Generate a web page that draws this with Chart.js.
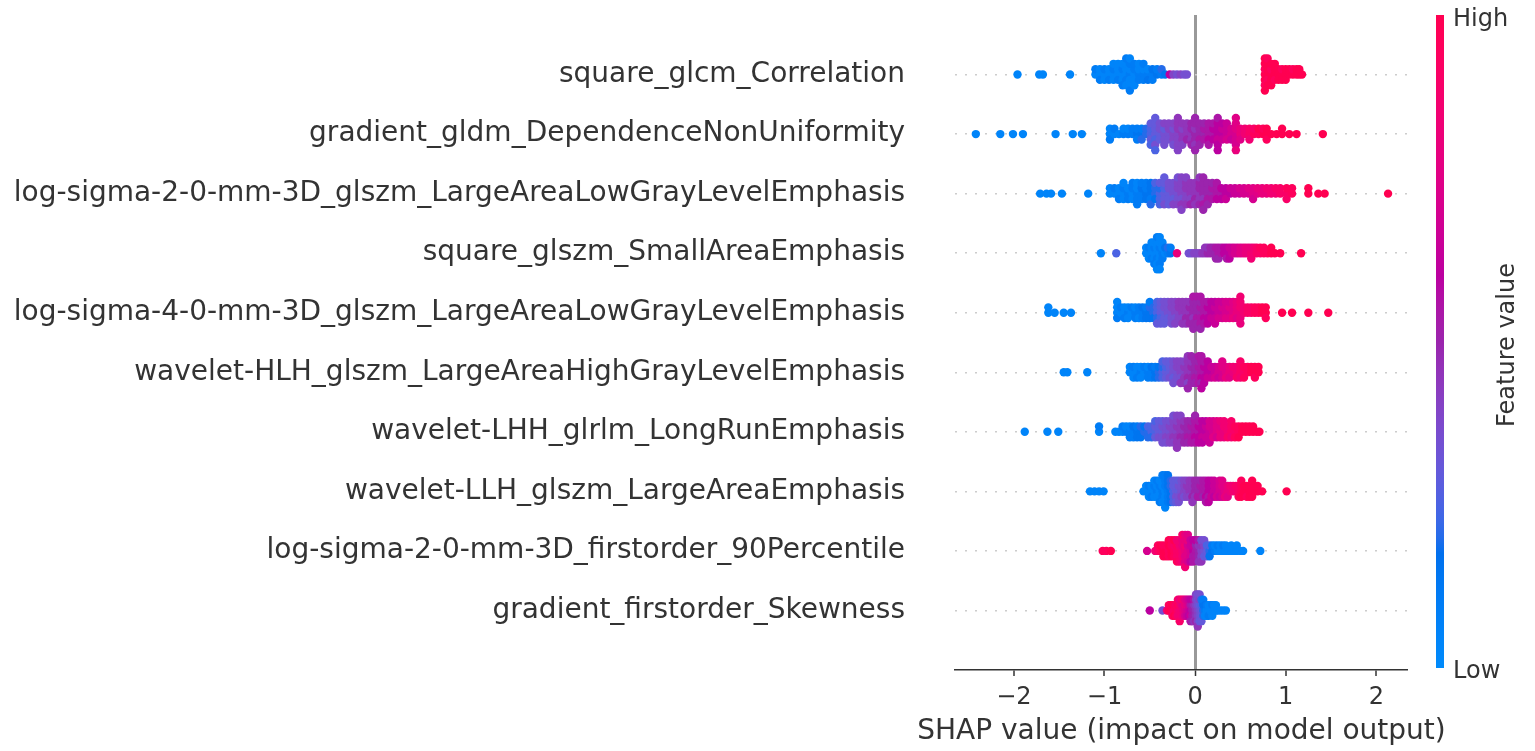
<!DOCTYPE html>
<html><head><meta charset="utf-8">
<script src="https://cdn.jsdelivr.net/npm/chart.js@4.4.1/dist/chart.umd.min.js"></script>
<style>html,body{margin:0;padding:0;background:#fff;}#wrap{width:1535px;height:751px;position:relative;}</style>
</head><body><div id="wrap"><canvas id="c" width="1535" height="751"></canvas></div>
<script>
// ---- DATA ----
const features = [
  'square_glcm_Correlation',
  'gradient_gldm_DependenceNonUniformity',
  'log-sigma-2-0-mm-3D_glszm_LargeAreaLowGrayLevelEmphasis',
  'square_glszm_SmallAreaEmphasis',
  'log-sigma-4-0-mm-3D_glszm_LargeAreaLowGrayLevelEmphasis',
  'wavelet-HLH_glszm_LargeAreaHighGrayLevelEmphasis',
  'wavelet-LHH_glrlm_LongRunEmphasis',
  'wavelet-LLH_glszm_LargeAreaEmphasis',
  'log-sigma-2-0-mm-3D_firstorder_90Percentile',
  'gradient_firstorder_Skewness'
];
const xTicks = [-2, -1, 0, 1, 2];
const xAxisTitle = 'SHAP value (impact on model output)';
const colorbarTitle = 'Feature value';
const colorbarHigh = 'High';
const colorbarLow = 'Low';

// each point: [SHAP value, normalized feature value]
const pts_square_glcm_Correlation = [
[-1.96,.05],[-1.72,.05],[-1.68,.05],[-1.38,.05],
[-1.10,.05],[-1.10,.1],
[-1.05,.05],[-1.05,.05],[-1.05,.1],
[-1.00,.05],[-1.00,.1],[-1.00,.05],
[-0.95,.05],[-0.95,.05],[-0.95,.1],
[-0.90,.05],[-0.90,.1],[-0.90,.05],[-0.90,.05],
[-0.85,.05],[-0.85,.05],[-0.85,.1],[-0.85,.05],
[-0.80,.05],[-0.80,.1],[-0.80,.05],[-0.80,.05],[-0.80,.1],
[-0.76,.05],[-0.76,.05],[-0.76,.1],[-0.76,.05],[-0.76,.05],[-0.76,.1],
[-0.72,.1],[-0.72,.05],[-0.72,.05],[-0.72,.1],[-0.72,.05],[-0.72,.05],[-0.72,.1],
[-0.67,.05],[-0.67,.1],[-0.67,.05],[-0.67,.1],[-0.67,.05],
[-0.62,.1],[-0.62,.05],[-0.62,.1],[-0.62,.05],
[-0.57,.1],[-0.57,.05],[-0.57,.1],[-0.57,.1],
[-0.52,.1],[-0.52,.05],[-0.52,.15],
[-0.47,.1],[-0.47,.15],[-0.47,.1],
[-0.42,.15],[-0.42,.1],
[-0.37,.1],[-0.37,.2],
[-0.33,.15],
[-0.28,.6],[-0.24,.4],[-0.20,.35],[-0.16,.4],[-0.12,.35],[-0.09,.35],
[0.77,1],[0.77,.95],[0.77,1],[0.77,1],[0.77,.95],[0.77,1],[0.77,1],
[0.80,1],[0.80,1],[0.80,.95],[0.80,1],[0.80,1],[0.80,.95],
[0.84,1],[0.84,.95],[0.84,1],[0.84,1],[0.84,1],
[0.88,1],[0.88,1],[0.88,.95],[0.88,1],
[0.92,1],[0.92,1],[0.92,1],
[0.96,1],[0.96,.95],[0.96,1],
[1.00,1],[1.00,1],[1.00,1],
[1.04,1],[1.04,1],
[1.08,1],[1.08,.95],
[1.12,1],[1.12,1],
[1.15,1],[1.15,1],
[1.18,1]
];
const pts_gradient_gldm_DependenceNonUniformity = [
[-2.42,.05],[-2.15,.05],[-2.01,.05],[-1.90,.05],[-1.54,.05],[-1.35,.05],[-1.25,.05],
[-0.94,.05],[-0.94,.05],[-0.94,.1],
[-0.89,.05],[-0.89,.1],
[-0.84,.05],
[-0.79,.1],[-0.79,.05],
[-0.74,.1],[-0.74,.05],
[-0.69,.1],[-0.69,.1],
[-0.64,.15],[-0.64,.1],[-0.64,.1],
[-0.59,.15],[-0.59,.1],[-0.59,.2],
[-0.54,.2],[-0.54,.2],
[-0.49,.25],[-0.49,.25],[-0.49,.3],[-0.49,.3],[-0.49,.25],
[-0.44,.3],[-0.44,.3],[-0.44,.25],[-0.44,.3],[-0.44,.35],[-0.44,.3],[-0.44,.25],
[-0.39,.3],[-0.39,.35],[-0.39,.3],[-0.39,.35],
[-0.34,.35],[-0.34,.3],[-0.34,.35],[-0.34,.4],[-0.34,.35],
[-0.29,.35],[-0.29,.4],[-0.29,.35],[-0.29,.4],
[-0.24,.4],[-0.24,.35],[-0.24,.4],[-0.24,.4],[-0.24,.35],
[-0.19,.4],[-0.19,.45],[-0.19,.4],[-0.19,.45],[-0.19,.4],[-0.19,.45],[-0.19,.4],
[-0.14,.45],[-0.14,.4],[-0.14,.45],[-0.14,.45],[-0.14,.4],
[-0.09,.45],[-0.09,.45],[-0.09,.5],[-0.09,.45],
[-0.04,.45],[-0.04,.5],[-0.04,.45],[-0.04,.5],[-0.04,.5],
[0.00,.5],[0.00,.45],[0.00,.5],[0.00,.5],[0.00,.45],[0.00,.5],[0.00,.5],
[0.05,.5],[0.05,.5],[0.05,.55],[0.05,.5],[0.05,.5],
[0.10,.5],[0.10,.55],[0.10,.55],[0.10,.5],
[0.15,.55],[0.15,.55],[0.15,.6],[0.15,.55],[0.15,.55],
[0.20,.55],[0.20,.6],[0.20,.6],[0.20,.55],
[0.25,.6],[0.25,.6],[0.25,.65],[0.25,.6],[0.25,.6],[0.25,.55],[0.25,.6],
[0.30,.6],[0.30,.65],[0.30,.65],[0.30,.6],
[0.35,.65],[0.35,.65],[0.35,.7],[0.35,.65],
[0.40,.7],[0.40,.7],[0.40,.65],
[0.45,.7],[0.45,.75],[0.45,.7],[0.45,.75],[0.45,.7],[0.45,.75],[0.45,.8],
[0.50,.8],[0.50,.8],[0.50,.75],
[0.55,.85],[0.55,.85],
[0.60,.9],[0.60,.9],[0.60,.85],
[0.65,.95],[0.65,.9],
[0.70,.95],[0.70,1],
[0.75,1],[0.75,.95],
[0.79,1],[0.79,1],[0.79,.95],
[0.84,1],
[0.90,1],
[0.96,1],[0.96,1],
[1.04,1],[1.12,1],
[1.41,1]
];
const pts_log_sigma_2_LargeAreaLowGrayLevelEmphasis = [
[-1.71,.05],[-1.64,.05],[-1.59,.05],[-1.47,.05],[-1.18,.05],
[-0.94,.05],[-0.94,.05],
[-0.89,.05],[-0.89,.1],
[-0.84,.05],[-0.84,.05],[-0.84,.1],
[-0.79,.05],[-0.79,.1],[-0.79,.05],[-0.79,.05],
[-0.74,.1],[-0.74,.05],[-0.74,.1],
[-0.69,.05],[-0.69,.1],[-0.69,.05],[-0.69,.1],
[-0.64,.1],[-0.64,.05],[-0.64,.1],[-0.64,.05],[-0.64,.1],
[-0.59,.1],[-0.59,.15],[-0.59,.1],[-0.59,.1],
[-0.54,.15],[-0.54,.1],[-0.54,.15],[-0.54,.1],
[-0.49,.15],[-0.49,.15],[-0.49,.1],[-0.49,.15],[-0.49,.2],
[-0.44,.2],[-0.44,.2],[-0.44,.15],[-0.44,.25],
[-0.39,.25],[-0.39,.2],[-0.39,.25],[-0.39,.3],[-0.39,.25],
[-0.34,.3],[-0.34,.25],[-0.34,.3],[-0.34,.3],[-0.34,.35],[-0.34,.3],
[-0.29,.3],[-0.29,.35],[-0.29,.3],[-0.29,.35],[-0.29,.3],
[-0.24,.35],[-0.24,.35],[-0.24,.3],[-0.24,.35],[-0.24,.4],
[-0.19,.35],[-0.19,.4],[-0.19,.35],[-0.19,.4],[-0.19,.4],[-0.19,.35],
[-0.15,.4],[-0.15,.4],[-0.15,.35],[-0.15,.4],[-0.15,.45],[-0.15,.4],[-0.15,.4],
[-0.10,.4],[-0.10,.45],[-0.10,.4],[-0.10,.45],[-0.10,.45],[-0.10,.4],
[-0.05,.45],[-0.05,.45],[-0.05,.4],[-0.05,.45],[-0.05,.5],
[0.00,.45],[0.00,.45],[0.00,.5],[0.00,.45],[0.00,.45],
[0.05,.45],[0.05,.5],[0.05,.45],[0.05,.5],[0.05,.5],[0.05,.45],
[0.09,.5],[0.09,.5],[0.09,.45],[0.09,.5],[0.09,.55],[0.09,.5],[0.09,.5],
[0.14,.5],[0.14,.5],[0.14,.55],[0.14,.5],[0.14,.5],
[0.19,.5],[0.19,.55],[0.19,.55],[0.19,.5],
[0.24,.55],[0.24,.55],[0.24,.6],[0.24,.55],
[0.29,.55],[0.29,.6],[0.29,.6],
[0.34,.6],[0.34,.6],[0.34,.65],
[0.39,.6],[0.39,.65],
[0.44,.65],[0.44,.65],
[0.49,.65],[0.49,.7],
[0.54,.7],[0.54,.7],
[0.59,.7],[0.59,.75],
[0.64,.75],[0.64,.75],[0.64,.7],
[0.69,.75],[0.69,.8],
[0.74,.8],[0.74,.8],
[0.79,.8],[0.79,.85],
[0.84,.85],[0.84,.85],
[0.89,.85],[0.89,.9],
[0.94,.9],[0.94,.9],
[1.01,.9],[1.01,.95],[1.01,.9],
[1.07,.95],[1.07,.95],
[1.25,1],[1.25,1],
[1.36,1],[1.43,1],
[2.13,1]
];
const pts_square_glszm_SmallAreaEmphasis = [
[-1.04,.05],[-0.87,.25],
[-0.54,.05],[-0.54,.05],
[-0.51,.05],[-0.51,.1],[-0.51,.05],
[-0.48,.05],[-0.48,.05],[-0.48,.1],[-0.48,.05],
[-0.45,.05],[-0.45,.1],[-0.45,.05],[-0.45,.05],[-0.45,.1],
[-0.42,.05],[-0.42,.05],[-0.42,.1],[-0.42,.05],[-0.42,.05],[-0.42,.1],[-0.42,.05],
[-0.39,.05],[-0.39,.1],[-0.39,.05],[-0.39,.05],[-0.39,.1],[-0.39,.05],[-0.39,.05],
[-0.36,.1],[-0.36,.05],[-0.36,.1],[-0.36,.05],
[-0.33,.05],[-0.33,.15],
[-0.30,.1],[-0.30,.2],
[-0.27,.15],[-0.27,.1],
[-0.20,.8],
[-0.07,.35],[-0.04,.35],[-0.01,.4],[0.02,.4],[0.05,.4],[0.08,.45],
[0.11,.45],[0.11,.45],
[0.14,.5],[0.14,.45],
[0.17,.5],[0.17,.5],
[0.20,.5],[0.20,.5],
[0.23,.5],[0.23,.55],[0.23,.5],
[0.26,.55],[0.26,.55],[0.26,.5],
[0.29,.55],[0.29,.55],
[0.32,.6],[0.32,.6],
[0.35,.6],[0.35,.6],[0.35,.55],
[0.38,.6],[0.38,.65],[0.38,.6],
[0.41,.65],[0.41,.65],
[0.44,.7],[0.44,.7],
[0.47,.7],[0.47,.7],
[0.50,.75],[0.50,.75],
[0.53,.75],[0.53,.75],
[0.56,.8],[0.56,.8],
[0.59,.8],[0.59,.8],
[0.62,.85],[0.62,.8],[0.62,.85],
[0.65,.85],[0.65,.85],
[0.68,.9],[0.68,.9],
[0.72,.9],[0.72,.95],
[0.76,.95],[0.76,.95],
[0.80,.95],
[0.84,1],[0.84,1],
[0.88,1],
[0.94,1],
[1.17,1]
];
const pts_log_sigma_4_LargeAreaLowGrayLevelEmphasis = [
[-1.62,.05],[-1.62,.05],[-1.55,.05],[-1.45,.05],[-1.37,.05],
[-0.86,.05],[-0.86,.05],[-0.86,.1],[-0.86,.05],
[-0.82,.05],[-0.82,.1],
[-0.78,.05],[-0.78,.05],[-0.78,.1],
[-0.74,.1],[-0.74,.05],[-0.74,.05],
[-0.70,.05],[-0.70,.1],
[-0.66,.1],[-0.66,.05],[-0.66,.1],
[-0.62,.1],[-0.62,.1],[-0.62,.05],
[-0.58,.1],[-0.58,.15],[-0.58,.1],
[-0.54,.15],[-0.54,.1],[-0.54,.15],
[-0.50,.15],[-0.50,.2],[-0.50,.15],[-0.50,.1],
[-0.46,.2],[-0.46,.2],[-0.46,.15],
[-0.42,.25],[-0.42,.25],[-0.42,.2],[-0.42,.25],[-0.42,.3],
[-0.38,.3],[-0.38,.3],[-0.38,.25],[-0.38,.3],[-0.38,.3],
[-0.34,.3],[-0.34,.35],[-0.34,.3],[-0.34,.35],[-0.34,.3],
[-0.30,.35],[-0.30,.35],[-0.30,.3],[-0.30,.35],
[-0.26,.35],[-0.26,.4],[-0.26,.35],[-0.26,.4],[-0.26,.35],
[-0.22,.4],[-0.22,.4],[-0.22,.35],[-0.22,.4],[-0.22,.4],
[-0.18,.4],[-0.18,.45],[-0.18,.4],[-0.18,.45],
[-0.14,.45],[-0.14,.45],[-0.14,.4],[-0.14,.45],[-0.14,.45],
[-0.10,.45],[-0.10,.45],[-0.10,.5],[-0.10,.45],[-0.10,.45],
[-0.06,.45],[-0.06,.5],[-0.06,.5],[-0.06,.45],[-0.06,.5],
[-0.02,.5],[-0.02,.5],[-0.02,.45],[-0.02,.5],[-0.02,.5],[-0.02,.55],[-0.02,.5],
[0.02,.5],[0.02,.5],[0.02,.55],[0.02,.5],[0.02,.5],[0.02,.55],
[0.06,.5],[0.06,.55],[0.06,.55],[0.06,.5],[0.06,.55],[0.06,.55],[0.06,.5],
[0.10,.55],[0.10,.55],[0.10,.6],[0.10,.55],[0.10,.55],
[0.14,.55],[0.14,.6],[0.14,.6],[0.14,.55],[0.14,.6],
[0.18,.6],[0.18,.6],[0.18,.65],[0.18,.6],
[0.22,.6],[0.22,.65],[0.22,.65],[0.22,.6],[0.22,.65],
[0.26,.65],[0.26,.65],[0.26,.7],[0.26,.65],
[0.30,.65],[0.30,.7],[0.30,.7],[0.30,.65],
[0.34,.7],[0.34,.7],[0.34,.75],[0.34,.7],
[0.38,.7],[0.38,.75],[0.38,.75],[0.38,.7],
[0.42,.75],[0.42,.75],[0.42,.8],[0.42,.75],
[0.46,.8],[0.46,.8],[0.46,.75],[0.46,.8],
[0.50,.8],[0.50,.85],[0.50,.8],[0.50,.85],[0.50,.8],[0.50,.85],
[0.54,.85],[0.54,.85],
[0.58,.9],[0.58,.9],
[0.62,.9],[0.62,.9],
[0.66,.95],[0.66,.95],
[0.70,.95],[0.70,.95],
[0.74,1],[0.74,1],
[0.78,1],[0.78,1],[0.78,.95],
[0.96,1],[1.07,1],[1.25,1],[1.47,1]
];
const pts_wavelet_HLH_LargeAreaHighGrayLevelEmphasis = [
[-1.45,.05],[-1.41,.05],[-1.19,.05],
[-0.72,.05],[-0.72,.05],
[-0.68,.05],[-0.68,.1],[-0.68,.05],
[-0.64,.05],[-0.64,.05],[-0.64,.1],
[-0.60,.1],[-0.60,.05],[-0.60,.05],
[-0.56,.05],[-0.56,.1],
[-0.52,.1],[-0.52,.05],[-0.52,.1],
[-0.48,.1],[-0.48,.15],[-0.48,.1],
[-0.44,.15],[-0.44,.1],[-0.44,.15],
[-0.40,.2],[-0.40,.15],[-0.40,.2],
[-0.36,.25],[-0.36,.2],[-0.36,.25],[-0.36,.25],
[-0.32,.3],[-0.32,.25],[-0.32,.3],[-0.32,.3],
[-0.28,.3],[-0.28,.3],[-0.28,.35],[-0.28,.3],
[-0.24,.35],[-0.24,.35],[-0.24,.3],[-0.24,.35],[-0.24,.35],
[-0.20,.35],[-0.20,.4],[-0.20,.35],[-0.20,.4],
[-0.16,.4],[-0.16,.4],[-0.16,.35],[-0.16,.4],[-0.16,.45],
[-0.12,.4],[-0.12,.45],[-0.12,.45],[-0.12,.4],[-0.12,.45],
[-0.08,.45],[-0.08,.45],[-0.08,.5],[-0.08,.45],[-0.08,.4],[-0.08,.45],[-0.08,.5],
[-0.04,.45],[-0.04,.5],[-0.04,.5],[-0.04,.45],[-0.04,.5],[-0.04,.5],
[0.00,.5],[0.00,.5],[0.00,.55],[0.00,.5],[0.00,.5],
[0.04,.5],[0.04,.55],[0.04,.55],[0.04,.5],[0.04,.55],[0.04,.55],
[0.07,.55],[0.07,.55],[0.07,.6],[0.07,.55],[0.07,.5],[0.07,.55],[0.07,.6],
[0.10,.55],[0.10,.6],[0.10,.6],[0.10,.55],[0.10,.6],
[0.14,.6],[0.14,.6],[0.14,.65],[0.14,.6],
[0.18,.6],[0.18,.65],[0.18,.65],
[0.22,.65],[0.22,.65],[0.22,.7],
[0.26,.7],[0.26,.7],[0.26,.65],
[0.30,.7],[0.30,.75],[0.30,.7],[0.30,.75],
[0.34,.75],[0.34,.75],[0.34,.8],
[0.38,.8],[0.38,.8],[0.38,.75],
[0.42,.8],[0.42,.85],
[0.46,.85],[0.46,.85],[0.46,.9],
[0.50,.9],[0.50,.9],[0.50,.85],[0.50,.9],
[0.54,.9],[0.54,.95],[0.54,.95],
[0.58,.95],[0.58,.95],
[0.62,1],[0.62,1],
[0.66,1],[0.66,1],[0.66,.95],
[0.70,1],[0.70,1]
];
const pts_wavelet_LHH_LongRunEmphasis = [
[-1.88,.05],[-1.63,.05],[-1.51,.05],
[-1.06,.05],[-1.06,.1],
[-0.88,.05],[-0.84,.05],
[-0.80,.05],[-0.80,.1],
[-0.76,.1],[-0.76,.05],
[-0.72,.1],[-0.72,.05],[-0.72,.1],
[-0.68,.1],[-0.68,.15],[-0.68,.1],
[-0.64,.15],[-0.64,.1],[-0.64,.15],
[-0.60,.15],[-0.60,.2],[-0.60,.15],
[-0.56,.2],[-0.56,.15],
[-0.52,.2],[-0.52,.25],[-0.52,.2],
[-0.48,.25],[-0.48,.25],[-0.48,.2],
[-0.44,.25],[-0.44,.3],[-0.44,.3],[-0.44,.25],
[-0.40,.3],[-0.40,.3],[-0.40,.35],[-0.40,.3],
[-0.36,.3],[-0.36,.35],[-0.36,.35],[-0.36,.3],[-0.36,.35],
[-0.32,.35],[-0.32,.35],[-0.32,.4],[-0.32,.35],[-0.32,.35],
[-0.28,.35],[-0.28,.4],[-0.28,.4],[-0.28,.35],[-0.28,.4],
[-0.24,.4],[-0.24,.4],[-0.24,.45],[-0.24,.4],[-0.24,.4],[-0.24,.35],
[-0.20,.4],[-0.20,.45],[-0.20,.45],[-0.20,.4],[-0.20,.45],[-0.20,.4],[-0.20,.45],
[-0.16,.45],[-0.16,.45],[-0.16,.5],[-0.16,.45],[-0.16,.45],[-0.16,.4],
[-0.12,.45],[-0.12,.5],[-0.12,.5],[-0.12,.45],[-0.12,.5],
[-0.08,.5],[-0.08,.5],[-0.08,.55],[-0.08,.5],[-0.08,.5],
[-0.04,.5],[-0.04,.55],[-0.04,.55],[-0.04,.5],[-0.04,.55],
[0.00,.55],[0.00,.55],[0.00,.6],[0.00,.55],[0.00,.55],[0.00,.5],
[0.04,.55],[0.04,.6],[0.04,.6],[0.04,.55],[0.04,.6],
[0.08,.6],[0.08,.6],[0.08,.65],[0.08,.6],[0.08,.6],
[0.12,.6],[0.12,.65],[0.12,.65],[0.12,.6],
[0.16,.65],[0.16,.7],[0.16,.65],[0.16,.7],[0.16,.65],
[0.20,.7],[0.20,.7],[0.20,.75],[0.20,.7],
[0.24,.75],[0.24,.75],[0.24,.7],[0.24,.75],
[0.28,.8],[0.28,.75],[0.28,.8],[0.28,.8],
[0.32,.8],[0.32,.85],[0.32,.8],[0.32,.85],
[0.36,.85],[0.36,.85],[0.36,.9],
[0.40,.9],[0.40,.9],[0.40,.85],[0.40,.9],
[0.44,.9],[0.44,.95],[0.44,.95],
[0.48,.95],[0.48,.95],[0.48,1],
[0.52,1],[0.52,1],
[0.56,1],[0.56,1],
[0.60,1],[0.60,1],
[0.64,1],[0.64,1],
[0.68,1],[0.71,1]
];
const pts_wavelet_LLH_LargeAreaEmphasis = [
[-1.16,.05],[-1.11,.05],[-1.06,.05],[-1.01,.05],
[-0.57,.05],
[-0.54,.05],[-0.54,.05],
[-0.51,.05],[-0.51,.1],[-0.51,.05],
[-0.48,.05],[-0.48,.05],[-0.48,.1],
[-0.45,.05],[-0.45,.1],[-0.45,.05],[-0.45,.05],
[-0.42,.1],[-0.42,.05],[-0.42,.05],[-0.42,.1],
[-0.39,.05],[-0.39,.1],[-0.39,.05],[-0.39,.05],[-0.39,.1],
[-0.36,.1],[-0.36,.05],[-0.36,.1],[-0.36,.05],[-0.36,.05],[-0.36,.1],
[-0.33,.05],[-0.33,.1],[-0.33,.05],[-0.33,.1],[-0.33,.05],[-0.33,.1],[-0.33,.05],
[-0.30,.1],[-0.30,.15],[-0.30,.1],[-0.30,.15],[-0.30,.1],[-0.30,.15],
[-0.27,.15],[-0.27,.2],[-0.27,.15],[-0.27,.2],[-0.27,.15],
[-0.24,.25],[-0.24,.3],[-0.24,.25],[-0.24,.3],[-0.24,.25],
[-0.21,.3],[-0.21,.3],[-0.21,.35],[-0.21,.3],[-0.21,.3],
[-0.18,.3],[-0.18,.35],[-0.18,.35],[-0.18,.3],[-0.18,.35],
[-0.15,.35],[-0.15,.35],[-0.15,.4],[-0.15,.35],
[-0.12,.4],[-0.12,.4],[-0.12,.35],[-0.12,.4],
[-0.09,.4],[-0.09,.45],[-0.09,.4],[-0.09,.4],
[-0.06,.45],[-0.06,.45],[-0.06,.4],[-0.06,.45],
[-0.03,.45],[-0.03,.45],[-0.03,.5],[-0.03,.45],[-0.03,.45],
[0.00,.5],[0.00,.5],[0.00,.45],[0.00,.5],
[0.03,.5],[0.03,.5],[0.03,.55],[0.03,.5],
[0.06,.5],[0.06,.55],[0.06,.55],[0.06,.5],
[0.09,.55],[0.09,.55],[0.09,.5],[0.09,.55],
[0.12,.55],[0.12,.55],[0.12,.6],[0.12,.55],[0.12,.55],
[0.15,.6],[0.15,.6],[0.15,.55],[0.15,.6],[0.15,.6],
[0.18,.6],[0.18,.6],[0.18,.65],[0.18,.6],
[0.21,.65],[0.21,.65],[0.21,.6],[0.21,.65],
[0.24,.65],[0.24,.65],[0.24,.7],
[0.27,.7],[0.27,.7],[0.27,.65],[0.27,.7],
[0.30,.7],[0.30,.75],[0.30,.7],[0.30,.75],
[0.33,.75],[0.33,.75],[0.33,.8],
[0.36,.8],[0.36,.8],[0.36,.75],
[0.39,.8],[0.39,.85],
[0.42,.85],[0.42,.85],
[0.45,.85],[0.45,.9],
[0.48,.9],[0.48,.9],[0.48,.95],
[0.51,.95],[0.51,.95],[0.51,1],[0.51,.95],
[0.54,1],[0.54,1],
[0.57,1],[0.57,1],[0.57,.95],
[0.60,1],[0.60,1],[0.60,1],
[0.63,1],[0.63,1],[0.63,1],[0.63,1],
[0.66,1],[0.66,1],
[0.69,1],[0.69,1],
[0.74,1],
[1.01,1]
];
const pts_log_sigma_2_firstorder_90Percentile = [
[-1.02,.95],[-0.98,.95],[-0.93,1],
[-0.53,.7],
[-0.44,.85],
[-0.41,.9],[-0.41,.95],
[-0.38,.95],[-0.38,1],
[-0.35,1],[-0.35,.95],[-0.35,1],
[-0.32,1],[-0.32,.95],[-0.32,1],
[-0.29,.95],[-0.29,1],[-0.29,.95],[-0.29,1],
[-0.26,1],[-0.26,.95],[-0.26,1],[-0.26,.95],
[-0.23,.95],[-0.23,.9],[-0.23,.95],[-0.23,1],
[-0.20,.9],[-0.20,.95],[-0.20,.9],[-0.20,.85],[-0.20,.95],
[-0.17,.9],[-0.17,.85],[-0.17,.9],[-0.17,.85],[-0.17,.9],
[-0.14,.85],[-0.14,.8],[-0.14,.85],[-0.14,.8],[-0.14,.85],[-0.14,.9],
[-0.11,.8],[-0.11,.85],[-0.11,.75],[-0.11,.8],[-0.11,.75],[-0.11,.8],[-0.11,.85],
[-0.08,.75],[-0.08,.7],[-0.08,.75],[-0.08,.8],[-0.08,.7],[-0.08,.75],
[-0.05,.7],[-0.05,.65],[-0.05,.7],[-0.05,.65],[-0.05,.6],
[-0.02,.6],[-0.02,.65],[-0.02,.55],[-0.02,.6],[-0.02,.55],
[0.01,.55],[0.01,.5],[0.01,.55],[0.01,.6],
[0.04,.5],[0.04,.45],[0.04,.5],[0.04,.55],[0.04,.45],
[0.07,.4],[0.07,.45],[0.07,.4],[0.07,.35],[0.07,.45],
[0.10,.35],[0.10,.4],[0.10,.3],[0.10,.35],
[0.13,.3],[0.13,.25],[0.13,.3],
[0.16,.2],[0.16,.25],[0.16,.15],
[0.19,.15],[0.19,.1],
[0.22,.1],[0.22,.05],
[0.25,.05],[0.25,.1],
[0.28,.05],[0.28,.05],
[0.31,.05],[0.31,.1],
[0.34,.05],[0.34,.05],
[0.37,.05],
[0.40,.05],[0.40,.05],
[0.43,.05],
[0.46,.05],[0.46,.05],
[0.50,.05],
[0.53,.05],
[0.72,.05]
];
const pts_gradient_firstorder_Skewness = [
[-0.50,.6],[-0.36,.35],
[-0.31,.85],
[-0.29,1],[-0.29,.95],
[-0.27,1],[-0.27,.95],
[-0.25,.95],[-0.25,1],[-0.25,.9],
[-0.23,.9],[-0.23,.95],[-0.23,1],
[-0.21,.95],[-0.21,.9],[-0.21,.95],
[-0.19,.9],[-0.19,.95],[-0.19,.85],[-0.19,.9],
[-0.17,.85],[-0.17,.9],[-0.17,.85],[-0.17,.8],[-0.17,.9],
[-0.15,.85],[-0.15,.8],[-0.15,.85],[-0.15,.9],
[-0.13,.8],[-0.13,.75],[-0.13,.8],[-0.13,.85],
[-0.11,.75],[-0.11,.8],[-0.11,.7],[-0.11,.75],
[-0.09,.7],[-0.09,.75],[-0.09,.65],[-0.09,.7],
[-0.07,.65],[-0.07,.7],[-0.07,.6],[-0.07,.65],
[-0.05,.6],[-0.05,.55],[-0.05,.65],[-0.05,.6],[-0.05,.55],
[-0.03,.55],[-0.03,.5],[-0.03,.55],[-0.03,.6],[-0.03,.5],
[-0.01,.5],[-0.01,.45],[-0.01,.5],[-0.01,.55],[-0.01,.45],
[0.01,.45],[0.01,.4],[0.01,.45],[0.01,.4],[0.01,.5],[0.01,.4],
[0.03,.4],[0.03,.35],[0.03,.4],[0.03,.35],[0.03,.4],[0.03,.35],[0.03,.45],
[0.05,.35],[0.05,.3],[0.05,.35],[0.05,.4],[0.05,.3],[0.05,.35],
[0.07,.3],[0.07,.25],[0.07,.3],[0.07,.2],[0.07,.3],
[0.09,.2],[0.09,.15],[0.09,.2],[0.09,.1],
[0.11,.1],[0.11,.15],[0.11,.05],
[0.13,.05],[0.13,.1],[0.13,.05],
[0.15,.05],[0.15,.05],[0.15,.1],
[0.17,.05],[0.17,.05],
[0.19,.05],[0.19,.1],[0.19,.05],
[0.21,.05],[0.21,.05],
[0.23,.05],[0.23,.05],
[0.25,.05],
[0.28,.05],
[0.31,.05],
[0.34,.05]
];
// rows in display order (top to bottom), matching `features`
const rowPoints = [
  pts_square_glcm_Correlation,
  pts_gradient_gldm_DependenceNonUniformity,
  pts_log_sigma_2_LargeAreaLowGrayLevelEmphasis,
  pts_square_glszm_SmallAreaEmphasis,
  pts_log_sigma_4_LargeAreaLowGrayLevelEmphasis,
  pts_wavelet_HLH_LargeAreaHighGrayLevelEmphasis,
  pts_wavelet_LHH_LongRunEmphasis,
  pts_wavelet_LLH_LargeAreaEmphasis,
  pts_log_sigma_2_firstorder_90Percentile,
  pts_gradient_firstorder_Skewness
];

// ---- SHAP red_blue colormap (LCH interpolation) ----
function cmap(t){
  t = Math.max(0, Math.min(1, t));
  const L = t < 0.5 ? 54 + (40 - 54) * (t / 0.5) : 40 + (54 - 40) * ((t - 0.5) / 0.5);
  const C = 70 + (90 - 70) * t;
  const H = 4.6588 + (0.35470565 + 2 * Math.PI - 4.6588) * t;
  const a = C * Math.cos(H), b = C * Math.sin(H);
  const fy = (L + 16) / 116, fx = fy + a / 500, fz = fy - b / 200;
  const finv = v => v > 6 / 29 ? v * v * v : 3 * (6 / 29) * (6 / 29) * (v - 4 / 29);
  const X = 0.95047 * finv(fx), Y = finv(fy), Z = 1.08883 * finv(fz);
  const r = 3.2406 * X - 1.5372 * Y - 0.4986 * Z;
  const g = -0.9689 * X + 1.8758 * Y + 0.0415 * Z;
  const bl = 0.0557 * X - 0.2040 * Y + 1.0570 * Z;
  const gam = v => { v = v <= 0.0031308 ? 12.92 * v : 1.055 * Math.pow(Math.max(v, 0), 1 / 2.4) - 0.055; return Math.round(255 * Math.max(0, Math.min(1, v))); };
  return 'rgb(' + gam(r) + ',' + gam(g) + ',' + gam(bl) + ')';
}

// ---- SHAP beeswarm layout (binning + alternating layers) ----
function swarmOffsets(points, rowHeight, nbins){
  const xs = points.map(p => p[0]);
  const mn = Math.min(...xs), mx = Math.max(...xs);
  const quant = xs.map(x => Math.round(nbins * (x - mn) / (mx - mn + 1e-8)));
  const inds = xs.map((_, i) => i).sort((a, b) => quant[a] - quant[b] || a - b);
  const ys = new Array(xs.length).fill(0);
  let layer = 0, last = -1;
  for (const i of inds) {
    if (quant[i] !== last) layer = 0;
    ys[i] = Math.ceil(layer / 2) * ((layer % 2) * 2 - 1);
    layer++; last = quant[i];
  }
  const m = Math.max(...ys.map(v => v + 1));
  return ys.map(v => v * 0.9 * rowHeight / m);
}

const nRows = features.length;
const datasets = rowPoints.map((pts, i) => {
  const rowY = nRows - 1 - i;
  const offs = swarmOffsets(pts, 0.4, 100);
  return {
    label: features[i],
    data: pts.map((p, k) => ({x: p[0], y: rowY + offs[k]})),
    backgroundColor: pts.map(p => cmap(p[1])),
    borderWidth: 0,
    pointRadius: 4.2,
    pointHoverRadius: 4.2
  };
});

const FONT = 'DejaVu Sans';
const TEXT = '#333333';
const decorPlugin = {
  id: 'decor',
  afterDraw(chart){
    const ctx = chart.ctx, ca = chart.chartArea;
    const top = ca.top, bottom = 668;
    const x0 = 1436, w = 8;
    ctx.save();
    // colorbar
    const grad = ctx.createLinearGradient(0, top, 0, bottom);
    for (let i = 0; i <= 40; i++) grad.addColorStop(i / 40, cmap(1 - i / 40));
    ctx.fillStyle = grad;
    ctx.fillRect(x0, top, w, bottom - top);
    ctx.fillStyle = TEXT;
    ctx.font = '24px "' + FONT + '"';
    ctx.textAlign = 'left';
    ctx.textBaseline = 'alphabetic';
    ctx.fillText(colorbarHigh, 1453, 26);
    ctx.fillText(colorbarLow, 1453, 678);
    // x-axis title (drawn without width compression)
    ctx.font = '28px "' + FONT + '"';
    ctx.textAlign = 'center';
    ctx.fillText(xAxisTitle, (ca.left + ca.right) / 2, 739);
    // colorbar title
    ctx.font = '24px "' + FONT + '"';
    ctx.translate(1514, 345);
    ctx.rotate(-Math.PI / 2);
    ctx.fillText(colorbarTitle, 0, 0);
    ctx.restore();
  }
};

new Chart(document.getElementById('c'), {
  type: 'scatter',
  data: {datasets},
  options: {
    responsive: false,
    devicePixelRatio: 1,
    animation: false,
    events: [],
    layout: {padding: {left: 0, right: 127, top: 15, bottom: 0}},
    plugins: {legend: {display: false}, tooltip: {enabled: false}},
    scales: {
      x: {
        type: 'linear', min: -2.65, max: 2.35,
        afterBuildTicks: s => { s.ticks = xTicks.map(v => ({value: v})); },
        afterFit: s => { s.height = 81; s.paddingLeft = 0; s.paddingRight = 0; },
        border: {display: true, color: TEXT, width: 1.5},
        grid: {
          color: c => (c.tick && c.tick.value === 0) ? '#999999' : 'rgba(0,0,0,0)',
          lineWidth: c => (c.tick && c.tick.value === 0) ? 3 : 0,
          drawTicks: true, tickLength: 6, tickColor: TEXT, tickWidth: 1.5
        },
        ticks: {
          font: {family: FONT, size: 24}, color: TEXT, padding: 7,
          maxRotation: 0, autoSkip: false,
          callback: v => v < 0 ? '\u2212' + Math.abs(v) : String(v)
        },
        title: {display: false}
      },
      y: {
        type: 'linear', min: -1, max: nRows,
        afterBuildTicks: s => { s.ticks = features.map((_, i) => ({value: i})); },
        afterFit: s => { s.width = 955; s.paddingTop = 0; s.paddingBottom = 0; },
        border: {display: false, dash: [2, 8]},
        grid: {color: '#cccccc', lineWidth: 1.5, drawTicks: true, tickLength: 50, tickColor: 'rgba(0,0,0,0)'},
        ticks: {
          font: {family: FONT, size: 28}, color: TEXT, padding: 0, autoSkip: false,
          callback: v => features[nRows - 1 - v]
        }
      }
    }
  },
  plugins: [decorPlugin]
});
</script></body></html>
